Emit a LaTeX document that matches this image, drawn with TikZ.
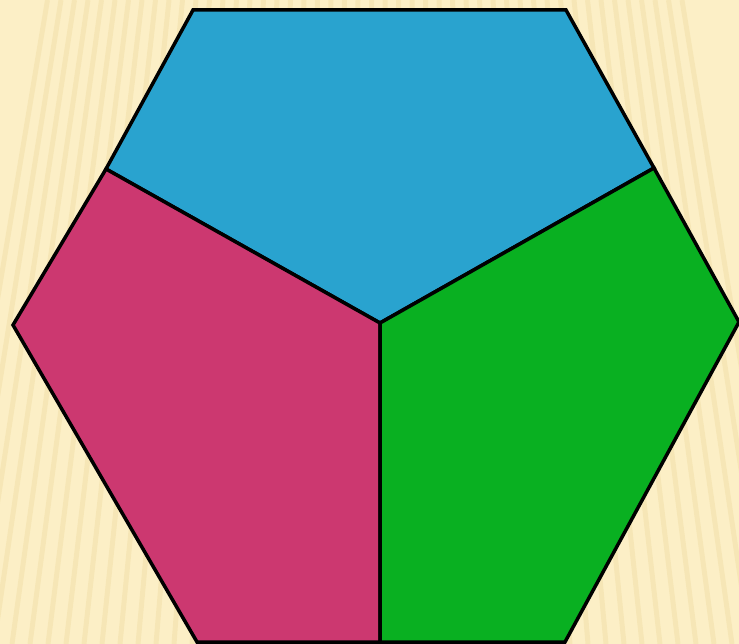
\documentclass[tikz,border=0pt]{standalone}
\usepackage{xcolor}
\usepackage{tikz}
\usetikzlibrary{calc}

\definecolor{paper}{HTML}{FCEFC6}
\definecolor{stripe}{HTML}{EDD89A}
\definecolor{faceblue}{HTML}{29A3CF}
\definecolor{facepink}{HTML}{CC3870}
\definecolor{facegreen}{HTML}{09B021}

\begin{document}
\begin{tikzpicture}[
  x=1pt, y=-1pt,
  face/.style={draw=black, line width=3.5pt, line join=miter},
  grain/.style={stripe, line width=5pt, opacity=0.35}
]
% background
\fill[paper] (0,0) rectangle (739,644);
\useasboundingbox (0,0) rectangle (739,644);
\begin{scope}
\clip (0,0) rectangle (739,644);
\foreach \s in {-60,-42,...,800} {
  \draw[grain] (\s,644) -- ({\s+(370-\s)*0.25},0);
}
\end{scope}
% corners of the hexagon
\coordinate (tl) at (193,10);
\coordinate (tr) at (566,10);
\coordinate (rt) at (739,322);
\coordinate (br) at (565,642);
\coordinate (bl) at (197,642);
\coordinate (lf) at (13,325);
% inner points
\coordinate (ul) at (106,169);
\coordinate (ur) at (654,168);
\coordinate (ctr) at (380,323);
\coordinate (bot) at (380,642);
% the three faces
\filldraw[face, fill=faceblue] (tl) -- (tr) -- (ur) -- (ctr) -- (ul) -- cycle;
\filldraw[face, fill=facepink] (ul) -- (ctr) -- (bot) -- (bl) -- (lf) -- cycle;
\filldraw[face, fill=facegreen] (ur) -- (rt) -- (br) -- (bot) -- (ctr) -- cycle;
\end{tikzpicture}
\end{document}
